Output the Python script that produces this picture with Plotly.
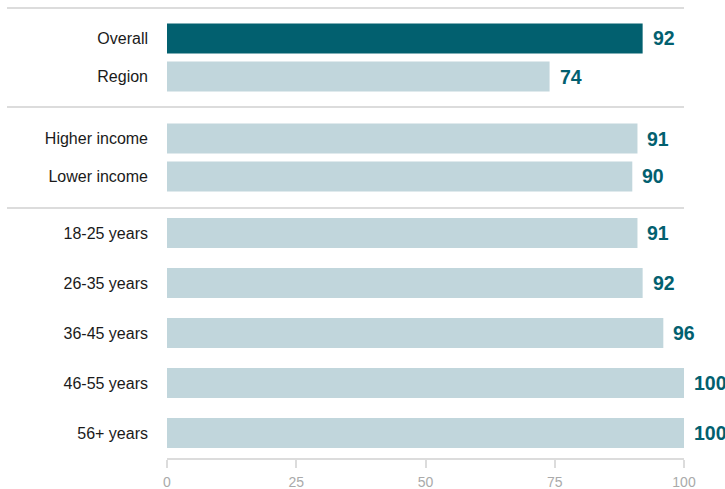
import plotly.graph_objects as go

# ---- data ----
group1_labels = ["Overall", "Region"]
group1_values = [92, 74]
group2_labels = ["Higher income", "Lower income"]
group2_values = [91, 90]
group3_labels = ["18-25 years", "26-35 years", "36-45 years", "46-55 years", "56+ years"]
group3_values = [91, 92, 96, 100, 100]
x_ticks = [0, 25, 50, 75, 100]

DARK = "#02606f"
LIGHT = "#c1d6dc"
TEXT = "#02606f"
GRID = "#dcdcdc"
FONT = "Liberation Sans, Arial, sans-serif"

fig = go.Figure()

groups = [
    (group1_labels, group1_values, [DARK, LIGHT], "x", "y", 0.79),
    (group2_labels, group2_values, [LIGHT, LIGHT], "x2", "y2", 0.79),
    (group3_labels, group3_values, [LIGHT] * 5, "x3", "y3", 0.6),
]

annotations = []
for labels, values, colors, xa, ya, w in groups:
    fig.add_trace(go.Bar(
        x=values, y=labels, orientation="h", marker=dict(color=colors, line=dict(width=0)),
        width=w, xaxis=xa, yaxis=ya, hoverinfo="skip", showlegend=False,
    ))
    for lab, v in zip(labels, values):
        annotations.append(dict(
            x=v, y=lab, xref=xa, yref=ya, text=f"<b>{v}</b>", showarrow=False,
            xanchor="left", yanchor="middle", xshift=8,
            font=dict(family=FONT, size=19.5, color=TEXT),
        ))

H = 450.0
d3 = (0, 250 / H)
d2 = (250 / H, 351 / H)
d1 = (351 / H, 1)

xcommon = dict(range=[0, 100], showgrid=False, zeroline=False, fixedrange=True, automargin=False)
ycommon = dict(showgrid=False, zeroline=False, ticks="", ticklabelstandoff=18, automargin=False,
               tickfont=dict(family=FONT, size=16, color="#1a1a1a"),
               autorange=False)

fig.update_layout(
    width=725, height=489,
    margin=dict(l=167, r=41, t=8, b=31, autoexpand=False),
    plot_bgcolor="white", paper_bgcolor="white",
    xaxis=dict(domain=[0, 1], anchor="y", visible=False, **xcommon),
    xaxis2=dict(domain=[0, 1], anchor="y2", visible=False, matches="x", **xcommon),
    xaxis3=dict(domain=[0, 1], anchor="y3", matches="x", showline=True, linecolor=GRID, linewidth=2,
                ticks="outside", ticklen=8, tickwidth=2, tickcolor=GRID, tickvals=x_ticks,
                ticklabelstandoff=2,
                tickfont=dict(family=FONT, size=14, color="#aaaaaa"), **xcommon),
    yaxis=dict(domain=list(d1), anchor="x", range=[1.8, -0.8], **ycommon),
    yaxis2=dict(domain=list(d2), anchor="x2", range=[1.83, -0.83], **ycommon),
    yaxis3=dict(domain=list(d3), anchor="x3", range=[4.5, -0.5], **ycommon),
    annotations=annotations,
    bargap=0.2,
)

# separator lines (top, between groups)
lx0 = (7 - 167) / 517.0
lx1 = 1.0
for yv in [1.0, d2[1], d2[0]]:
    fig.add_shape(type="line", xref="paper", yref="paper", x0=lx0, x1=lx1, y0=yv, y1=yv,
                  line=dict(color=GRID, width=2), layer="below")

fig.write_html("out.html")
